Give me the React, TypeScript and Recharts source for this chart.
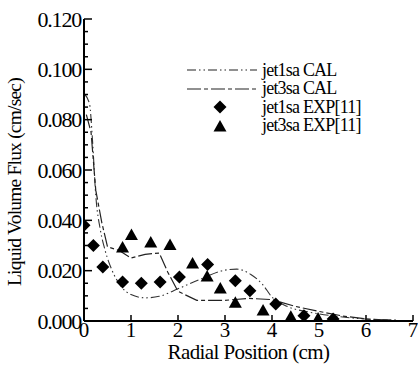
import React from "react";
import {
  ComposedChart,
  Line,
  Scatter,
  XAxis,
  YAxis,
} from "recharts";

// calculated curves
const jet1sa_cal = [
  { x: 0.02, y: 0.09 },
  { x: 0.12, y: 0.086 },
  { x: 0.18, y: 0.072 },
  { x: 0.25, y: 0.05 },
  { x: 0.35, y: 0.036 },
  { x: 0.45, y: 0.028 },
  { x: 0.6, y: 0.02 },
  { x: 0.8, y: 0.0135 },
  { x: 1.0, y: 0.0105 },
  { x: 1.3, y: 0.0092 },
  { x: 1.6, y: 0.0098 },
  { x: 2.0, y: 0.0128 },
  { x: 2.5, y: 0.0168 },
  { x: 3.0, y: 0.0202 },
  { x: 3.25, y: 0.0206 },
  { x: 3.55, y: 0.0185 },
  { x: 3.8, y: 0.0145 },
  { x: 4.0, y: 0.0095 },
  { x: 4.3, y: 0.006 },
  { x: 4.8, y: 0.0035 },
  { x: 5.4, y: 0.0018 },
  { x: 6.0, y: 0.0008 },
  { x: 6.7, y: 0.0004 },
];

const jet3sa_cal = [
  { x: 0.05, y: 0.082 },
  { x: 0.15, y: 0.075 },
  { x: 0.25, y: 0.052 },
  { x: 0.38, y: 0.039 },
  { x: 0.5, y: 0.0295 },
  { x: 0.75, y: 0.028 },
  { x: 1.0, y: 0.025 },
  { x: 1.3, y: 0.0265 },
  { x: 1.6, y: 0.027 },
  { x: 1.78, y: 0.0195 },
  { x: 2.0, y: 0.0118 },
  { x: 2.4, y: 0.0082 },
  { x: 3.0, y: 0.0082 },
  { x: 3.5, y: 0.009 },
  { x: 4.0, y: 0.0085 },
  { x: 4.5, y: 0.0058 },
  { x: 5.0, y: 0.0038 },
  { x: 5.5, y: 0.002 },
  { x: 6.0, y: 0.0008 },
  { x: 6.5, y: 0.0003 },
];

// measured points
const jet1sa_exp = [
  { x: 0.0, y: 0.038 },
  { x: 0.2, y: 0.03 },
  { x: 0.4, y: 0.0215 },
  { x: 0.82, y: 0.0155 },
  { x: 1.22, y: 0.015 },
  { x: 1.62, y: 0.0155 },
  { x: 2.03, y: 0.0175 },
  { x: 2.63, y: 0.0225 },
  { x: 3.22, y: 0.016 },
  { x: 3.53, y: 0.012 },
  { x: 4.08, y: 0.0068 },
  { x: 4.68, y: 0.0021 },
  { x: 5.3, y: 0.0008 },
];

const jet3sa_exp = [
  { x: 0.82, y: 0.029 },
  { x: 1.01, y: 0.034 },
  { x: 1.42, y: 0.031 },
  { x: 1.83, y: 0.03 },
  { x: 2.31, y: 0.0226 },
  { x: 2.62, y: 0.0175 },
  { x: 2.9, y: 0.0127 },
  { x: 3.22, y: 0.0071 },
  { x: 3.81, y: 0.004 },
  { x: 4.4, y: 0.0015 },
  { x: 4.98, y: 0.0008 },
];

const xTicks = [0, 1, 2, 3, 4, 5, 6, 7];
const yTicks = [
  0, 0.005, 0.01, 0.015, 0.02, 0.025, 0.03, 0.035, 0.04, 0.045, 0.05, 0.055,
  0.06, 0.065, 0.07, 0.075, 0.08, 0.085, 0.09, 0.095, 0.1, 0.105, 0.11, 0.115,
  0.12,
];

const serif = "'Liberation Serif', 'DejaVu Serif', serif";
const dash1 = "9 3 1.5 3 1.5 3";
const dash3 = "14 3 4 3";

const Diamond = (props: any) => {
  const { cx, cy } = props;
  const r = 6.5;
  return (
    <polygon
      points={`${cx},${cy - r} ${cx + r},${cy} ${cx},${cy + r} ${cx - r},${cy}`}
      fill="#000"
    />
  );
};

const Triangle = (props: any) => {
  const { cx, cy } = props;
  return (
    <polygon
      points={`${cx},${cy - 7} ${cx + 6.5},${cy + 4.5} ${cx - 6.5},${cy + 4.5}`}
      fill="#000"
    />
  );
};

const YTick = (props: any) => {
  const { x, y, payload } = props;
  const v = payload.value;
  const major = Math.abs(Math.round(v / 0.02) * 0.02 - v) < 1e-6;
  return (
    <g>
      <line x1={x} x2={x + (major ? 8 : 4)} y1={y} y2={y} stroke="#000" strokeWidth={1.5} />
      {major && (
        <text
          x={x - 3}
          y={y + 7.5}
          textAnchor="end"
          fontFamily={serif}
          fontSize={22}
          letterSpacing={-1.2}
          fill="#000"
        >
          {v.toFixed(3)}
        </text>
      )}
    </g>
  );
};

const XTick = (props: any) => {
  const { x, y, payload } = props;
  return (
    <g>
      <line x1={x} x2={x} y1={y} y2={y - 6} stroke="#000" strokeWidth={1.5} />
      <text x={x} y={y + 16} textAnchor="middle" fontFamily={serif} fontSize={21} fill="#000">
        {payload.value}
      </text>
    </g>
  );
};

const legendItems = [
  { label: "jet1sa CAL", kind: "line", dash: dash1 },
  { label: "jet3sa CAL", kind: "line", dash: dash3 },
  { label: "jet1sa EXP[11]", kind: "diamond" },
  { label: "jet3sa EXP[11]", kind: "triangle" },
];

const LegendBox = () => (
  <div
    style={{
      position: "absolute",
      left: 187,
      top: 61,
      fontFamily: serif,
      fontSize: 18,
      letterSpacing: -0.8,
      color: "#000",
    }}
  >
    {legendItems.map((it) => (
      <div key={it.label} style={{ display: "flex", alignItems: "center", height: 18.5 }}>
        <svg width={75} height={18}>
          {it.kind === "line" && (
            <line x1={0} x2={70} y1={9} y2={9} stroke="#222" strokeWidth={1.2} strokeDasharray={it.dash} />
          )}
          {it.kind === "diamond" && <Diamond cx={33} cy={9} />}
          {it.kind === "triangle" && <Triangle cx={33} cy={10} />}
        </svg>
        <span>{it.label}</span>
      </div>
    ))}
  </div>
);

export default function App() {
  return (
    <div style={{ position: "absolute", left: 0, top: 0, width: 418, height: 367, background: "#fff" }}>
      <ComposedChart
        width={418}
        height={367}
        margin={{ top: 19, right: 5, bottom: 0, left: 0 }}
      >
        <XAxis
          type="number"
          dataKey="x"
          domain={[0, 7]}
          ticks={xTicks}
          tickSize={0}
          tickMargin={0}
          tickLine={false}
          axisLine={{ stroke: "#000", strokeWidth: 2 }}
          tick={<XTick />}
          height={46}
          interval={0}
          allowDataOverflow
          label={{
            value: "Radial Position (cm)",
            position: "insideBottom",
            offset: 8,
            style: { fontFamily: serif, fontSize: 21, letterSpacing: -0.6, fill: "#000" },
          }}
        />
        <XAxis
          xAxisId="top"
          orientation="top"
          type="number"
          domain={[0, 7]}
          tick={false}
          tickLine={false}
          height={0}
          axisLine={{ stroke: "#000", strokeWidth: 2 }}
        />
        <YAxis
          type="number"
          domain={[0, 0.12]}
          ticks={yTicks}
          tickSize={0}
          tickMargin={0}
          tickLine={false}
          axisLine={{ stroke: "#000", strokeWidth: 2 }}
          tick={<YTick />}
          width={84}
          interval={0}
          allowDataOverflow
          label={{
            value: "Liquid Volume Flux (cm/sec)",
            angle: -90,
            position: "insideLeft",
            offset: 14,
            dy: 116,
            style: { fontFamily: serif, fontSize: 19.5, letterSpacing: -0.8, fill: "#000", textAnchor: "start" },
          }}
        />
        <YAxis
          yAxisId="right"
          orientation="right"
          type="number"
          domain={[0, 0.12]}
          tick={false}
          tickLine={false}
          width={0}
          axisLine={{ stroke: "#000", strokeWidth: 2.5 }}
        />
        <Line
          data={jet1sa_cal}
          dataKey="y"
          type="monotone"
          stroke="#333"
          strokeWidth={1.1}
          strokeDasharray={dash1}
          dot={false}
          isAnimationActive={false}
          legendType="none"
        />
        <Line
          data={jet3sa_cal}
          dataKey="y"
          type="linear"
          stroke="#222"
          strokeWidth={1.2}
          strokeDasharray={dash3}
          dot={false}
          isAnimationActive={false}
          legendType="none"
        />
        <Scatter data={jet1sa_exp} dataKey="y" shape={<Diamond />} isAnimationActive={false} />
        <Scatter data={jet3sa_exp} dataKey="y" shape={<Triangle />} isAnimationActive={false} />
      </ComposedChart>
      <LegendBox />
    </div>
  );
}
